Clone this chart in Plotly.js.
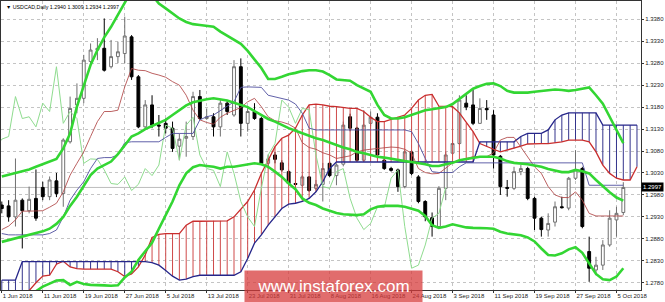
<!DOCTYPE html>
<html>
<head>
<meta charset="utf-8">
<script src="https://cdn.plot.ly/plotly-3.0.1.min.js"></script>
<style>html,body{margin:0;padding:0;background:#fff;}#chart{width:665px;height:302px;}</style>
</head>
<body>
<div id="chart"></div>
<script>
const symbol = 'USDCAD,Daily';
const dates = [
'1 Jun 2018','4 Jun 2018','5 Jun 2018','6 Jun 2018','7 Jun 2018','8 Jun 2018',
'11 Jun 2018','12 Jun 2018','13 Jun 2018','14 Jun 2018','15 Jun 2018',
'18 Jun 2018','19 Jun 2018','20 Jun 2018','21 Jun 2018','22 Jun 2018',
'25 Jun 2018','26 Jun 2018','27 Jun 2018','28 Jun 2018','29 Jun 2018',
'2 Jul 2018','3 Jul 2018','4 Jul 2018','5 Jul 2018','6 Jul 2018',
'9 Jul 2018','10 Jul 2018','11 Jul 2018','12 Jul 2018','13 Jul 2018',
'16 Jul 2018','17 Jul 2018','18 Jul 2018','19 Jul 2018','20 Jul 2018',
'23 Jul 2018','24 Jul 2018','25 Jul 2018','26 Jul 2018','27 Jul 2018',
'30 Jul 2018','31 Jul 2018','1 Aug 2018','2 Aug 2018','3 Aug 2018',
'6 Aug 2018','7 Aug 2018','8 Aug 2018','9 Aug 2018','10 Aug 2018',
'13 Aug 2018','14 Aug 2018','15 Aug 2018','16 Aug 2018','17 Aug 2018',
'20 Aug 2018','21 Aug 2018','22 Aug 2018','23 Aug 2018','24 Aug 2018',
'27 Aug 2018','28 Aug 2018','29 Aug 2018','30 Aug 2018','31 Aug 2018',
'3 Sep 2018','4 Sep 2018','5 Sep 2018','6 Sep 2018','7 Sep 2018',
'10 Sep 2018','11 Sep 2018','12 Sep 2018','13 Sep 2018','14 Sep 2018',
'17 Sep 2018','18 Sep 2018','19 Sep 2018','20 Sep 2018','21 Sep 2018',
'24 Sep 2018','25 Sep 2018','26 Sep 2018','27 Sep 2018','28 Sep 2018',
'1 Oct 2018','2 Oct 2018','3 Oct 2018','4 Oct 2018','5 Oct 2018',
'8 Oct 2018'];
const futureDates = ['9 Oct 2018','10 Oct 2018'];
const tickLabels = ['1 Jun 2018','11 Jun 2018','19 Jun 2018','27 Jun 2018','5 Jul 2018','13 Jul 2018','23 Jul 2018','31 Jul 2018','8 Aug 2018','16 Aug 2018','24 Aug 2018','3 Sep 2018','11 Sep 2018','19 Sep 2018','27 Sep 2018','5 Oct 2018'];

const open = [1.2957,1.2955,1.2930,1.2968,1.2944,1.2972,1.2997,1.2976,1.3012,1.2983,1.3101,1.3185,1.3200,1.3284,1.3310,1.3314,1.3272,1.3295,1.3302,1.3340,1.3249,1.3135,1.3185,1.3139,1.3143,1.3132,1.3091,1.3109,1.3113,1.3204,1.3154,1.3158,1.3135,1.3189,1.3162,1.3272,1.3143,1.3170,1.3154,1.3052,1.3071,1.3053,1.3033,1.3006,1.3002,1.3021,1.2995,1.3004,1.3052,1.3024,1.3050,1.3158,1.3132,1.3059,1.3143,1.3157,1.3059,1.3040,1.3037,1.2999,1.3078,1.3021,1.2965,1.2928,1.2908,1.2995,1.3075,1.3097,1.3189,1.3185,1.3143,1.3177,1.3162,1.3068,1.2997,1.2995,1.3033,1.3040,1.2972,1.2927,1.2900,1.2918,1.2953,1.2950,1.3018,1.3040,1.2851,1.2809,1.2820,1.2866,1.2923,1.2940];
const high = [1.2965,1.2968,1.3063,1.2972,1.2999,1.3038,1.3010,1.3022,1.3030,1.3109,1.3204,1.3234,1.3299,1.3325,1.3337,1.3382,1.3333,1.3329,1.3386,1.3344,1.3253,1.3196,1.3207,1.3162,1.3154,1.3147,1.3120,1.3147,1.3215,1.3219,1.3177,1.3166,1.3196,1.3196,1.3287,1.3291,1.3181,1.3189,1.3158,1.3072,1.3078,1.3059,1.3037,1.3014,1.3025,1.3023,1.3014,1.3053,1.3056,1.3052,1.3147,1.3165,1.3135,1.3173,1.3170,1.3166,1.3063,1.3044,1.3040,1.3082,1.3082,1.3025,1.2968,1.2940,1.3000,1.3078,1.3105,1.3207,1.3207,1.3219,1.3200,1.3196,1.3173,1.3071,1.3014,1.3044,1.3048,1.3044,1.2976,1.2930,1.2938,1.2965,1.2976,1.3021,1.3082,1.3044,1.2885,1.2839,1.2877,1.2945,1.2953,1.3009];
const low = [1.2938,1.2919,1.2908,1.2858,1.2938,1.2921,1.2968,1.2968,1.2975,1.2953,1.3097,1.3166,1.3189,1.3280,1.3287,1.3261,1.3268,1.3280,1.3280,1.3242,1.3132,1.3128,1.3132,1.3113,1.3120,1.3078,1.3059,1.3067,1.3105,1.3151,1.3151,1.3113,1.3113,1.3162,1.3158,1.3113,1.3124,1.3151,1.3048,1.3040,1.3052,1.3033,1.3002,1.2999,1.2999,1.2987,1.2990,1.2965,1.3021,1.3002,1.3045,1.3125,1.3056,1.3056,1.3136,1.3063,1.3037,1.3033,1.2987,1.2995,1.3025,1.2961,1.2920,1.2885,1.2905,1.2968,1.3071,1.3094,1.3173,1.3139,1.3143,1.3151,1.3040,1.2980,1.2976,1.2991,1.3025,1.2968,1.2900,1.2885,1.2885,1.2908,1.2949,1.2945,1.3014,1.2904,1.2782,1.2797,1.2809,1.2862,1.2885,1.2934];
const close = [1.2949,1.2930,1.2968,1.2944,1.2970,1.2927,1.2976,1.3014,1.2983,1.3105,1.3177,1.3200,1.3287,1.3310,1.3314,1.3264,1.3295,1.3306,1.3342,1.3249,1.3135,1.3185,1.3139,1.3137,1.3132,1.3086,1.3107,1.3113,1.3204,1.3154,1.3158,1.3135,1.3189,1.3170,1.3272,1.3143,1.3170,1.3154,1.3052,1.3062,1.3061,1.3037,1.3006,1.3004,1.3021,1.2990,1.3004,1.3040,1.3024,1.3048,1.3139,1.3132,1.3059,1.3139,1.3157,1.3071,1.3040,1.3036,1.2999,1.3078,1.3029,1.2965,1.2930,1.2908,1.2995,1.3071,1.3097,1.3196,1.3180,1.3143,1.3177,1.3174,1.3071,1.2999,1.2995,1.3033,1.3040,1.2972,1.2927,1.2901,1.2915,1.2953,1.2951,1.3018,1.3037,1.2908,1.2813,1.2820,1.2866,1.2927,1.2938,1.2997];

const bbUpper = [1.3022,1.3026,1.3030,1.3033,1.3038,1.3044,1.3050,1.3057,1.3062,1.3086,1.3120,1.3181,1.3226,1.3276,1.3310,1.3339,1.3363,1.3390,1.3420,1.3445,1.3455,1.3450,1.3435,1.3416,1.3405,1.3394,1.3382,1.3374,1.3369,1.3367,1.3365,1.3363,1.3352,1.3342,1.3333,1.3324,1.3308,1.3289,1.3269,1.3244,1.3244,1.3249,1.3255,1.3258,1.3262,1.3264,1.3264,1.3261,1.3253,1.3243,1.3242,1.3240,1.3230,1.3223,1.3215,1.3185,1.3162,1.3154,1.3154,1.3157,1.3162,1.3167,1.3173,1.3175,1.3178,1.3180,1.3187,1.3198,1.3209,1.3222,1.3228,1.3233,1.3234,1.3228,1.3217,1.3213,1.3213,1.3213,1.3215,1.3217,1.3219,1.3220,1.3219,1.3217,1.3219,1.3222,1.3225,1.3207,1.3188,1.3158,1.3128,1.3098];
const bbMiddle = [1.2873,1.2877,1.2881,1.2885,1.2888,1.2892,1.2897,1.2903,1.2914,1.2930,1.2955,1.2976,1.3002,1.3025,1.3040,1.3048,1.3056,1.3073,1.3094,1.3113,1.3120,1.3130,1.3137,1.3144,1.3151,1.3162,1.3173,1.3184,1.3191,1.3195,1.3198,1.3200,1.3198,1.3195,1.3190,1.3185,1.3180,1.3171,1.3162,1.3153,1.3147,1.3139,1.3132,1.3126,1.3120,1.3114,1.3109,1.3105,1.3099,1.3093,1.3088,1.3084,1.3078,1.3075,1.3071,1.3067,1.3065,1.3062,1.3059,1.3057,1.3055,1.3053,1.3050,1.3046,1.3046,1.3050,1.3053,1.3059,1.3062,1.3065,1.3067,1.3067,1.3067,1.3063,1.3057,1.3053,1.3052,1.3050,1.3047,1.3044,1.3039,1.3035,1.3032,1.3032,1.3037,1.3034,1.3029,1.3014,1.2999,1.2986,1.2974,1.2967];
const bbLower = [1.2725,1.2730,1.2736,1.2742,1.2750,1.2760,1.2771,1.2778,1.2785,1.2786,1.2775,1.2782,1.2777,1.2775,1.2775,1.2774,1.2773,1.2774,1.2792,1.2805,1.2832,1.2851,1.2871,1.2903,1.2933,1.2965,1.3002,1.3029,1.3043,1.3048,1.3046,1.3044,1.3040,1.3044,1.3044,1.3047,1.3049,1.3052,1.3050,1.3044,1.3033,1.3021,1.3006,1.2993,1.2972,1.2962,1.2957,1.2949,1.2944,1.2939,1.2936,1.2935,1.2934,1.2936,1.2947,1.2953,1.2955,1.2955,1.2955,1.2953,1.2949,1.2944,1.2932,1.2911,1.2905,1.2908,1.2913,1.2910,1.2906,1.2905,1.2905,1.2904,1.2903,1.2896,1.2892,1.2890,1.2888,1.2883,1.2874,1.2858,1.2843,1.2842,1.2847,1.2856,1.2861,1.2848,1.2824,1.2800,1.2788,1.2786,1.2794,1.2813];

const tenkan = [1.2901,1.2909,1.2923,1.2943,1.2943,1.2943,1.2944,1.2952,1.2961,1.2987,1.3025,1.3052,1.3078,1.3113,1.3147,1.3170,1.3170,1.3173,1.3226,1.3268,1.3264,1.3263,1.3257,1.3253,1.3248,1.3238,1.3230,1.3207,1.3173,1.3151,1.3145,1.3141,1.3157,1.3166,1.3173,1.3179,1.3192,1.3200,1.3181,1.3158,1.3149,1.3146,1.3141,1.3132,1.3099,1.3088,1.3084,1.3076,1.3071,1.3063,1.3066,1.3069,1.3078,1.3082,1.3084,1.3086,1.3088,1.3089,1.3088,1.3084,1.3075,1.3040,1.3031,1.3028,1.3029,1.3040,1.3053,1.3059,1.3063,1.3067,1.3067,1.3067,1.3076,1.3105,1.3111,1.3111,1.3089,1.3067,1.3044,1.3029,1.2999,1.2980,1.2974,1.2974,1.2987,1.2968,1.2938,1.2932,1.2932,1.2932,1.2932,1.2932];
const kijun = [1.2892,1.2889,1.2889,1.2889,1.2889,1.2889,1.2889,1.2892,1.2900,1.2930,1.2968,1.2991,1.3010,1.3040,1.3063,1.3065,1.3065,1.3071,1.3099,1.3101,1.3101,1.3101,1.3101,1.3101,1.3111,1.3120,1.3120,1.3120,1.3120,1.3151,1.3158,1.3162,1.3173,1.3182,1.3192,1.3225,1.3226,1.3226,1.3225,1.3207,1.3203,1.3200,1.3196,1.3187,1.3166,1.3132,1.3128,1.3128,1.3128,1.3128,1.3128,1.3128,1.3128,1.3128,1.3128,1.3128,1.3128,1.3128,1.3128,1.3128,1.3124,1.3097,1.3063,1.3033,1.3031,1.3031,1.3031,1.3044,1.3053,1.3053,1.3053,1.3053,1.3053,1.3053,1.3053,1.3053,1.3053,1.3053,1.3053,1.3053,1.3053,1.3053,1.3053,1.3053,1.3053,1.3053,1.3002,1.3002,1.3002,1.3002,1.3002,1.3002];
const spanA = [1.2740,1.2745,1.2750,1.2755,1.2762,1.2780,1.2795,1.2797,1.2822,1.2829,1.2816,1.2812,1.2811,1.2811,1.2811,1.2811,1.2811,1.2805,1.2794,1.2800,1.2816,1.2843,1.2883,1.2890,1.2892,1.2892,1.2892,1.2911,1.2920,1.2920,1.2920,1.2921,1.2921,1.2921,1.2930,1.2947,1.2965,1.2991,1.3029,1.3059,1.3090,1.3109,1.3116,1.3132,1.3162,1.3185,1.3187,1.3185,1.3182,1.3181,1.3179,1.3177,1.3177,1.3170,1.3157,1.3147,1.3147,1.3152,1.3158,1.3162,1.3177,1.3196,1.3207,1.3209,1.3182,1.3181,1.3181,1.3167,1.3144,1.3124,1.3097,1.3090,1.3084,1.3078,1.3082,1.3086,1.3091,1.3096,1.3097,1.3097,1.3097,1.3099,1.3101,1.3105,1.3105,1.3105,1.3101,1.3078,1.3048,1.3029,1.3018,1.3014,1.3014,1.3044];
const spanB = [1.2786,1.2786,1.2786,1.2828,1.2828,1.2828,1.2828,1.2828,1.2828,1.2828,1.2828,1.2828,1.2828,1.2828,1.2828,1.2828,1.2828,1.2828,1.2828,1.2828,1.2828,1.2828,1.2826,1.2820,1.2808,1.2795,1.2786,1.2788,1.2794,1.2797,1.2797,1.2797,1.2797,1.2797,1.2797,1.2805,1.2835,1.2870,1.2889,1.2911,1.2929,1.2949,1.2959,1.2961,1.2965,1.2972,1.2987,1.3010,1.3040,1.3055,1.3055,1.3055,1.3055,1.3055,1.3055,1.3055,1.3055,1.3055,1.3055,1.3055,1.3055,1.3055,1.3055,1.3055,1.3055,1.3055,1.3055,1.3055,1.3055,1.3055,1.3101,1.3101,1.3101,1.3101,1.3101,1.3101,1.3113,1.3120,1.3120,1.3120,1.3128,1.3151,1.3162,1.3167,1.3167,1.3167,1.3167,1.3167,1.3139,1.3139,1.3139,1.3139,1.3139,1.3139];
const chikouShift = 26;

// ---- build traces ----
const allDates = dates.concat(futureDates);
const barX = dates.map((d, i) => i);
const cloudX = allDates.map((d, i) => i);
const redH = {x: [], y: []}, blueH = {x: [], y: []};
cloudX.forEach(i => {
  const t = spanA[i] >= spanB[i] ? redH : blueH;
  t.x.push(i, i, null); t.y.push(spanA[i], spanB[i], null);
});
const traces = [];
traces.push({type:'scatter', mode:'lines', x:redH.x, y:redH.y, line:{color:'#cf4a4a', width:1}, hoverinfo:'skip'});
traces.push({type:'scatter', mode:'lines', x:blueH.x, y:blueH.y, line:{color:'#34348c', width:1}, hoverinfo:'skip'});
traces.push({type:'scatter', mode:'lines', x:cloudX, y:spanA, line:{color:'#c92e2e', width:1.3}, hoverinfo:'skip'});
traces.push({type:'scatter', mode:'lines', x:cloudX, y:spanB, line:{color:'#26268a', width:1.3}, hoverinfo:'skip'});
traces.push({type:'scatter', mode:'lines', x:barX.map(i => i - chikouShift), y:close, line:{color:'#8fdc8f', width:1}, hoverinfo:'skip'});
traces.push({type:'scatter', mode:'lines', x:barX, y:tenkan, line:{color:'rgba(176,70,70,0.85)', width:1}, hoverinfo:'skip'});
traces.push({type:'scatter', mode:'lines', x:barX, y:kijun, line:{color:'rgba(80,80,160,0.9)', width:1}, hoverinfo:'skip'});
traces.push({type:'candlestick', x:barX, open:open, high:high, low:low, close:close,
  increasing:{line:{color:'#707070', width:1}, fillcolor:'#ffffff'},
  decreasing:{line:{color:'#000000', width:1}, fillcolor:'#000000'},
  whiskerwidth:0, hoverinfo:'skip'});
[bbUpper, bbMiddle, bbLower].forEach(b => traces.push({type:'scatter', mode:'lines', x:barX, y:b, line:{color:'#33d633', width:2.6}, hoverinfo:'skip'}));

const last = dates.length - 1;
const f4 = v => v.toFixed(4);
const tickvals = tickLabels.map(l => dates.indexOf(l));
const tickFont = {family:'Liberation Sans, Arial, sans-serif', size:6, color:'#222'};

const layout = {
  width:665, height:302,
  margin:{l:1, r:24, t:1, b:12},
  paper_bgcolor:'#ffffff', plot_bgcolor:'#ffffff',
  showlegend:false, boxgap:0.4,
  xaxis:{range:[-0.117, 93.59], tickmode:'array', tickvals:tickvals, ticktext:tickLabels, tickangle:0,
    ticklabelposition:'outside right', ticklabeloverflow:'allow', showgrid:true, gridcolor:'#c4c4c4', griddash:'dot', gridwidth:1,
    zeroline:false, showline:true, mirror:true, linecolor:'#333', linewidth:1,
    ticks:'outside', ticklen:2, tickcolor:'#333', tickfont:tickFont, rangeslider:{visible:false}, fixedrange:true},
  yaxis:{side:'right', range:[1.27634, 1.34217], tick0:1.278, dtick:0.005, tickformat:'.4f',
    showgrid:true, gridcolor:'#c4c4c4', griddash:'dot', gridwidth:1, zeroline:false,
    showline:true, mirror:true, linecolor:'#333', linewidth:1,
    ticks:'outside', ticklen:2, tickcolor:'#333', tickfont:tickFont, fixedrange:true},
  shapes:[{type:'line', xref:'paper', x0:0, x1:1, yref:'y', y0:close[last], y1:close[last], line:{color:'#bdbdbd', width:1}, layer:'below'}],
  annotations:[
    {xref:'paper', yref:'paper', x:0, y:1, xshift:3, yshift:-1, xanchor:'left', yanchor:'top', showarrow:false,
     text:'\u25BC ' + symbol + ' ' + [open[last], high[last], low[last], close[last]].map(f4).join(' '),
     font:{family:'Liberation Sans, Arial, sans-serif', size:5.3, color:'#000'}},
    {xref:'paper', yref:'y', x:1, y:close[last], xanchor:'left', yanchor:'middle', showarrow:false,
     text:f4(close[last]), bgcolor:'#000', borderpad:1, font:{family:'Liberation Sans, Arial, sans-serif', size:6, color:'#fff'}},
    {xref:'paper', yref:'paper', x:0.5195, y:0.0128, xanchor:'center', yanchor:'middle', showarrow:false,
     text:'www.instaforex.com', width:177, height:31, borderpad:0, bgcolor:'rgba(214,58,58,0.74)',
     font:{family:'Liberation Sans, Arial, sans-serif', size:17, color:'#ffffff'}}
  ]
};
Plotly.newPlot('chart', traces, layout, {staticPlot:true, displayModeBar:false});
</script>
</body>
</html>
